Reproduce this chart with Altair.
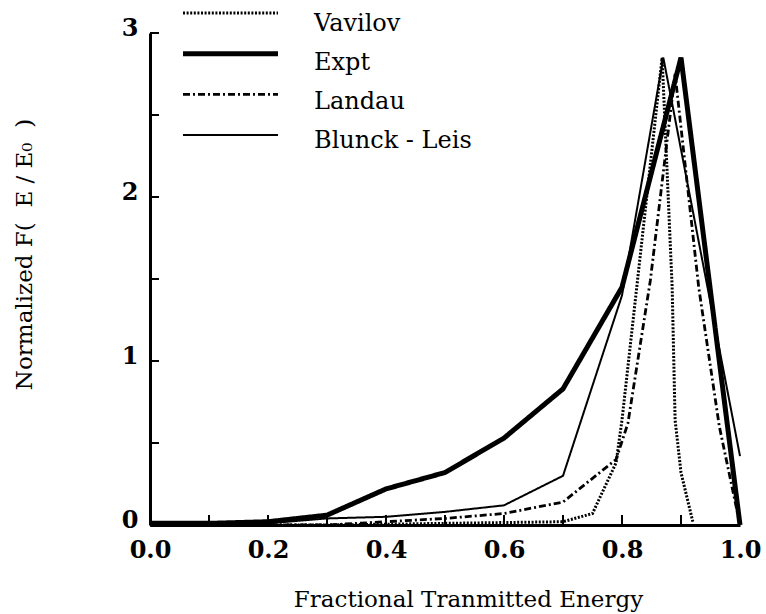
import altair as alt
import pandas as pd

# ---- data ----
series_order = ["Vavilov", "Expt", "Landau", "Blunck - Leis"]

vavilov_x = [0.0, 0.3, 0.5, 0.7, 0.75, 0.79, 0.80, 0.825, 0.868, 0.885, 0.89, 0.90, 0.92]
vavilov_y = [0.0, 0.0, 0.01, 0.02, 0.07, 0.38, 0.64, 1.45, 2.85, 1.45, 0.64, 0.32, 0.02]

expt_x = [0.0, 0.1, 0.2, 0.3, 0.4, 0.5, 0.6, 0.7, 0.8, 0.9, 1.0]
expt_y = [0.01, 0.01, 0.02, 0.06, 0.22, 0.32, 0.53, 0.83, 1.45, 2.85, 0.0]

landau_x = [0.0, 0.3, 0.4, 0.5, 0.6, 0.7, 0.79, 0.81, 0.848, 0.89, 0.93, 0.965, 1.0]
landau_y = [0.0, 0.0, 0.02, 0.04, 0.07, 0.14, 0.40, 0.62, 1.49, 2.75, 1.45, 0.60, 0.0]

blunck_x = [0.0, 0.1, 0.2, 0.3, 0.4, 0.5, 0.6, 0.7, 0.8, 0.87, 1.0]
blunck_y = [0.0, 0.0, 0.01, 0.04, 0.05, 0.08, 0.12, 0.30, 1.40, 2.85, 0.42]

x_tick_values = [0.1, 0.2, 0.3, 0.4, 0.5, 0.6, 0.7, 0.8, 0.9]
y_tick_values = [0.5, 1.0, 1.5, 2.0, 2.5, 3.0]
x_label_values = [0.0, 0.2, 0.4, 0.6, 0.8, 1.0]
y_label_values = [0, 1, 2, 3]

x_title = "Fractional Tranmitted Energy"
y_title = "Normalized F(\u00a0 E / E\u2080\u00a0 )"

rows = []
for name, xs, ys in [
    ("Vavilov", vavilov_x, vavilov_y),
    ("Expt", expt_x, expt_y),
    ("Landau", landau_x, landau_y),
    ("Blunck - Leis", blunck_x, blunck_y),
]:
    for i, (xv, yv) in enumerate(zip(xs, ys)):
        rows.append({"series": name, "x": xv, "y": yv, "i": i})
df = pd.DataFrame(rows)
legend_df = pd.DataFrame({"series": series_order})

SERIF = "DejaVu Serif"

x_scale = alt.Scale(domain=[0, 1], nice=False, zero=False)
y_scale = alt.Scale(domain=[0, 3], nice=False)

dash_enc = alt.StrokeDash(
    "series:N", legend=None,
    scale=alt.Scale(domain=series_order,
                    range=[[2, 1.6], [1, 0], [7, 3, 2, 3], [1, 0]]),
)
width_enc = alt.StrokeWidth(
    "series:N", legend=None,
    scale=alt.Scale(type="ordinal", domain=series_order, range=[3, 5, 2.8, 2]),
)

x_axis = alt.Axis(values=x_label_values, format=".1f", ticks=False, grid=False,
                  title=x_title, titleX=318, titleY=81, titleBaseline="alphabetic",
                  titleAlign="center", labelPadding=13, labelFlush=False)
y_axis = alt.Axis(values=y_label_values, format="d", ticks=False, grid=False,
                  title=y_title, titleX=-119, titleY=221, titleAngle=270,
                  titleBaseline="alphabetic", titleAlign="center", labelPadding=12,
                  labelFlush=False, labelOffset=-5)

lines = alt.Chart(df).mark_line(color="black", strokeCap="butt", strokeJoin="miter").encode(
    x=alt.X("x:Q", scale=x_scale, axis=x_axis),
    y=alt.Y("y:Q", scale=y_scale, axis=y_axis),
    order="i:Q",
    strokeDash=dash_enc,
    strokeWidth=width_enc,
)

xt = alt.Chart(pd.DataFrame({"t": x_tick_values})).mark_rule(color="black", strokeWidth=2).encode(
    x=alt.X("t:Q", scale=x_scale, axis=x_axis),
    y=alt.value(492), y2=alt.value(482),
)
yt = alt.Chart(pd.DataFrame({"t": y_tick_values})).mark_rule(color="black", strokeWidth=2).encode(
    y=alt.Y("t:Q", scale=y_scale, axis=None),
    x=alt.value(0), x2=alt.value(9),
)

leg_lines = alt.Chart(legend_df).mark_rule(color="black", strokeCap="butt").encode(
    y=alt.Y("series:N", axis=None,
            scale=alt.Scale(type="point", domain=series_order, range=[-20, 102], padding=0)),
    x=alt.value(33), x2=alt.value(128),
    strokeDash=dash_enc,
    strokeWidth=width_enc,
)
leg_text = alt.Chart(legend_df).mark_text(
    align="left", baseline="middle", font=SERIF, fontSize=24, color="black"
).encode(
    y=alt.Y("series:N", axis=None,
            scale=alt.Scale(type="point", domain=series_order, range=[-9, 108], padding=0)),
    x=alt.value(164),
    text="series:N",
)

chart = alt.layer(lines, xt, yt, leg_lines, leg_text).resolve_scale(
    y="independent"
).properties(
    width=590, height=492,
    autosize=alt.AutoSizeParams(type="none"),
    padding={"left": 150, "top": 33, "right": 26, "bottom": 89},
    background="white",
).configure_view(strokeWidth=0).configure_axis(
    domainColor="black", domainWidth=3,
    labelFont=SERIF, labelFontSize=24, labelFontWeight="bold", labelColor="black",
    titleFont=SERIF, titleFontSize=23, titleFontWeight="normal", titleColor="black",
)

chart.save("out.html", embed_options={"renderer": "svg", "actions": False})
